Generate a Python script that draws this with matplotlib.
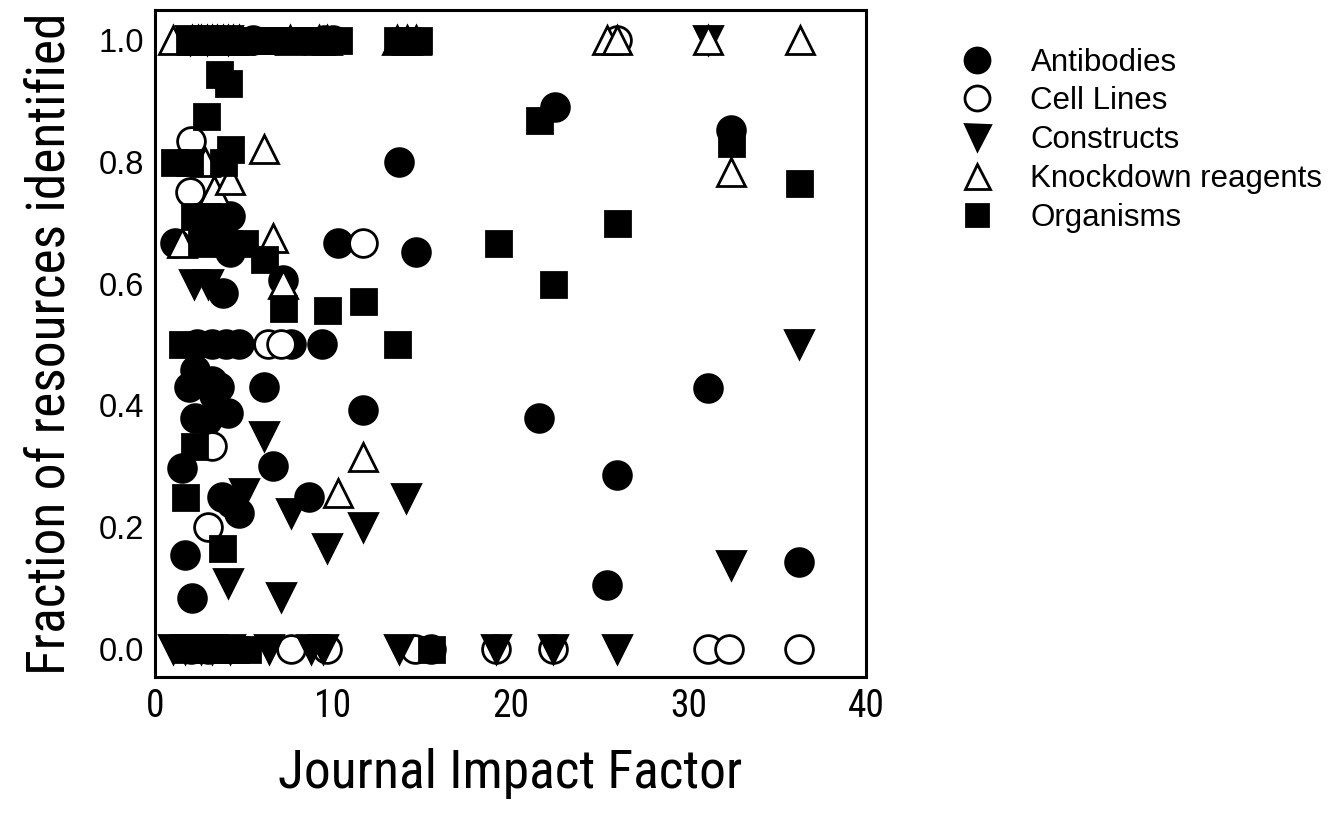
import matplotlib
matplotlib.use("Agg")
import matplotlib.pyplot as plt
from matplotlib import font_manager as fm
from matplotlib.ticker import FormatStrFormatter
from matplotlib.lines import Line2D

# Journal impact factor vs fraction of resources identified, per resource type
antibodies_x = [22.5, 32.4, 13.7, 10.3, 14.7, 9.4, 11.7, 21.6, 31.1, 26.0, 25.4, 36.2,
                6.65, 6.15, 8.65, 1.5, 1.7, 2.07, 3.75, 4.75, 4.3,
                2.35, 3.2, 4.0, 4.75, 7.65,
                2.25, 1.9, 3.2, 3.6, 2.25, 2.9, 4.1, 3.3,
                3.85, 7.2, 4.2, 4.2, 1.1,
                5.5, 9.5, 10.0, 2.0, 15.5]
antibodies_y = [0.889, 0.852, 0.80, 0.667, 0.652, 0.50, 0.393, 0.38, 0.429, 0.286, 0.105, 0.143,
                0.30, 0.43, 0.25, 0.297, 0.154, 0.084, 0.25, 0.223, 0.24,
                0.50, 0.50, 0.50, 0.50, 0.50,
                0.458, 0.43, 0.44, 0.43, 0.38, 0.376, 0.387, 0.417,
                0.585, 0.605, 0.71, 0.652, 0.667,
                1.0, 1.0, 1.0, 0.0, 0.0]

cell_x = [2.0, 1.96, 11.7, 6.35, 7.1, 3.2, 3.0,
          7.65, 9.7, 14.6, 19.2, 22.4, 31.1, 32.3, 36.2, 26.0, 3.0]
cell_y = [0.833, 0.75, 0.667, 0.50, 0.50, 0.333, 0.20,
          0.0, 0.0, 0.0, 0.0, 0.0, 0.0, 0.0, 0.0, 1.0, 0.0]

constructs_x = [31.1, 1.95, 2.9, 4.1, 2.2, 3.0, 36.2, 6.15, 5.0, 7.65, 11.7, 14.1,
                9.7, 4.1, 7.1, 32.4,
                1.0, 1.7, 2.6, 3.2, 4.2, 6.4, 8.8, 9.45, 13.7, 19.2, 22.4, 26.0]
constructs_y = [1.0, 1.0, 1.0, 1.0, 0.60, 0.60, 0.50, 0.35, 0.256, 0.223, 0.20, 0.248,
                0.166, 0.108, 0.085, 0.138,
                0.0, 0.0, 0.0, 0.0, 0.0, 0.0, 0.0, 0.0, 0.0, 0.0, 0.0, 0.0]

knockdown_x = [1.0, 2.1, 2.4, 2.6, 2.9, 3.2, 3.5, 3.8, 4.1, 4.4, 4.7, 7.6, 9.2, 9.7,
               13.6, 14.2, 14.7, 25.4, 26.0, 31.1, 36.3,
               6.15, 2.8, 3.3, 4.2, 1.5, 6.65, 7.2, 32.4, 11.7, 10.3]
knockdown_y = [1.0] * 21 + [0.82, 0.80, 0.754, 0.77, 0.667, 0.675, 0.60, 0.783, 0.315, 0.256]

organisms_x = [1.9, 2.5, 3.1, 3.7, 4.3, 4.9, 5.5, 6.1, 6.7, 7.3, 7.9, 8.5, 9.1, 9.7, 10.3,
               13.6, 14.2, 14.8,
               3.6, 4.1, 2.85, 1.05, 1.9, 3.8, 4.2, 2.2, 2.9, 3.5, 2.6, 4.1, 5.0,
               6.15, 7.2, 9.7, 11.7, 13.6, 1.5, 2.2, 1.7, 3.75,
               21.6, 32.4, 36.2, 26.0, 19.3, 22.4,
               1.7, 2.4, 3.1, 3.8, 4.5, 5.2, 15.5]
organisms_y = [1.0] * 18 + [0.943, 0.929, 0.875, 0.80, 0.80, 0.80, 0.82, 0.71, 0.71, 0.69,
                            0.667, 0.667, 0.667, 0.64, 0.56, 0.556, 0.571, 0.50, 0.50,
                            0.333, 0.25, 0.166,
                            0.868, 0.83, 0.765, 0.70, 0.667, 0.60,
                            0.0, 0.0, 0.0, 0.0, 0.0, 0.0, 0.0]

series = [
    ("Antibodies", antibodies_x, antibodies_y, "o", "black", 20),
    ("Cell Lines", cell_x, cell_y, "o", "white", 20),
    ("Constructs", constructs_x, constructs_y, "v", "black", 20),
    ("Knockdown reagents", knockdown_x, knockdown_y, "^", "white", 20),
    ("Organisms", organisms_x, organisms_y, "s", "black", 18),
]


def pick_narrow_font():
    # look for a condensed sans face; the original used a narrow Helvetica
    order = ["Liberation Sans Narrow", "Arial Narrow", "Roboto Condensed",
             "Open Sans Condensed", "Noto Sans Condensed", "DejaVu Sans Condensed"]
    found = {}
    for f in fm.fontManager.ttflist:
        fname = f.fname.replace("-", " ").replace("_", " ")
        narrowish = ("Narrow" in f.name or "Condensed" in f.name
                     or "Narrow" in fname or "Condensed" in fname
                     or str(f.stretch) in ("condensed", "semi-condensed"))
        if not narrowish or f.style != "normal":
            continue
        if f.weight not in (400, "normal", "regular", "book"):
            continue
        if "Extra" in fname or "Semi" in fname:
            continue
        key = f.name
        if "Condensed" not in key and "Narrow" not in key:
            key = key + " Condensed"
        found.setdefault(key, f.fname)
    for name in order:
        if name in found:
            return fm.FontProperties(fname=found[name])
    if found:
        return fm.FontProperties(fname=sorted(found.values())[0])
    return None


narrow_fp = pick_narrow_font()
regular = ["Liberation Sans", "DejaVu Sans"]


def narrow_props(size):
    if narrow_fp is None:
        return {"family": regular, "size": size * 0.85}
    fp = narrow_fp.copy()
    fp.set_size(size)
    return {"fontproperties": fp}


fig = plt.figure(figsize=(13.33, 8.17), dpi=100)
ax = fig.add_axes([0.1163, 0.171, 0.5334, 0.817])

for i, (name, xs, ys, m, fc, ms) in enumerate(series):
    ax.plot(xs, ys, linestyle="none", marker=m, markersize=ms,
            markerfacecolor=fc, markeredgecolor="black", markeredgewidth=2,
            label=name, zorder=3 + i, clip_on=False)

ax.set_xlim(0, 40)
ax.set_ylim(-0.046, 1.049)
ax.set_xticks([0, 10, 20, 30, 40])
ax.set_yticks([0.0, 0.2, 0.4, 0.6, 0.8, 1.0])
ax.yaxis.set_major_formatter(FormatStrFormatter("%.1f"))
ax.tick_params(length=0, pad=8)
ax.set_xticklabels(["0", "10", "20", "30", "40"], **narrow_props(27))
for lab in ax.get_yticklabels():
    lab.set_family(regular)
    lab.set_fontsize(23.5)
for sp in ax.spines.values():
    sp.set_linewidth(2.2)

ax.set_xlabel("Journal Impact Factor", labelpad=16, **narrow_props(38.5))
ax.set_ylabel("Fraction of resources identified", labelpad=16, **narrow_props(38.5))

handles = [Line2D([], [], linestyle="none", marker=m, markersize=ms * 0.9,
                  markerfacecolor=fc, markeredgecolor="black", markeredgewidth=2)
           for (name, xs, ys, m, fc, ms) in series]
ax.legend(handles, [s[0] for s in series], loc="upper left",
          bbox_to_anchor=(1.117, 0.962), frameon=False, handlelength=1.0,
          handletextpad=1.2, labelspacing=0.28, borderaxespad=0,
          prop={"family": regular, "size": 22.5})

fig.savefig("out.png", dpi=100)
